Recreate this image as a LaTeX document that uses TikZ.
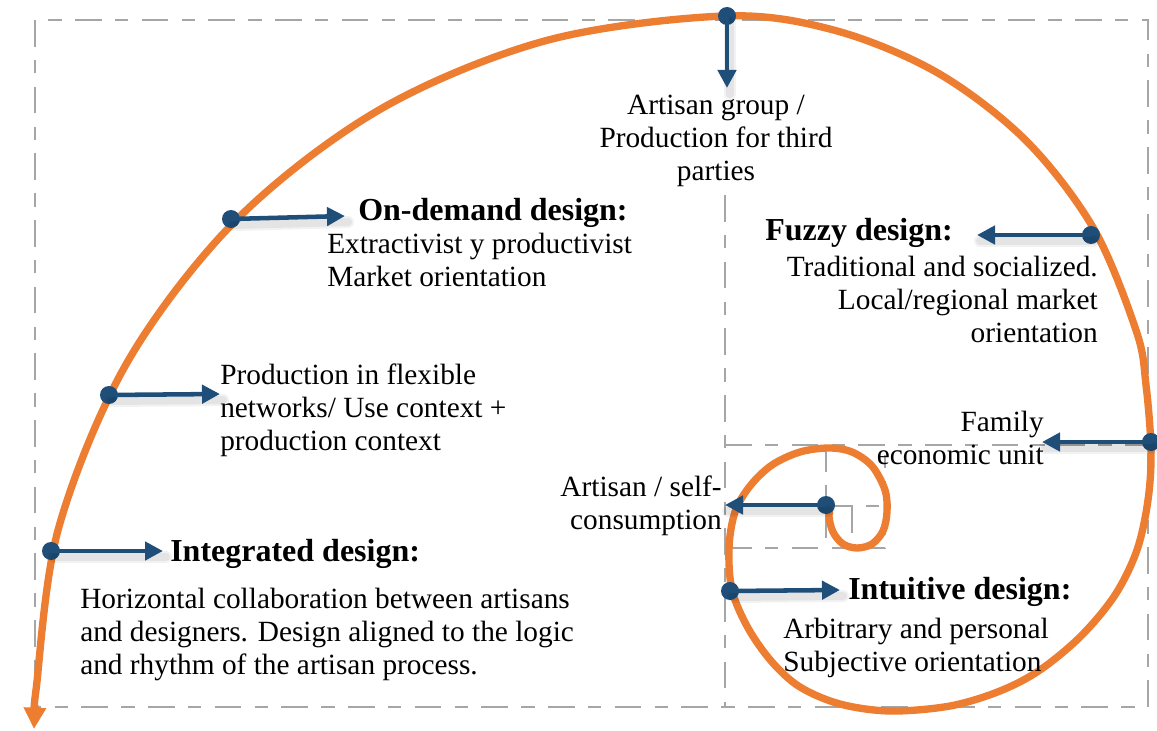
\documentclass[tikz,border=0pt]{standalone}
\usepackage{fontspec}
\setmainfont{Liberation Serif}
\usetikzlibrary{arrows.meta}
\definecolor{sporange}{HTML}{ED7D31}
\definecolor{arblue}{HTML}{1F4E79}
\definecolor{gridgray}{HTML}{A6A6A6}
\begin{document}
\begin{tikzpicture}[x=0.75pt,y=-0.75pt,
  gridline/.style={draw=gridgray, line width=2pt, dash pattern=on 20pt off 10pt on 10pt off 10pt},
  spiral/.style={draw=sporange, line width=5.5pt},
  spiraltip/.style={draw=sporange, line width=5.5pt, -{Triangle[length=16pt,width=16pt]}},
  dot/.style={circle, fill=arblue, inner sep=0pt, minimum size=13.5pt},
  arr/.style={draw=arblue, line width=3.4pt, -{Triangle[length=13.5pt,width=13.5pt]}},
  shadeA/.style={draw=black, opacity=0.05, line width=9pt, line cap=round},
  shadeB/.style={draw=black, opacity=0.06, line width=6pt, line cap=round},
  body/.style={font=\fontsize{22}{24.75}\selectfont, inner sep=0pt},
  head/.style={font=\fontsize{24}{28}\selectfont\bfseries, inner sep=0pt},
]
\useasboundingbox (0,0) rectangle (1157,731);
% golden rectangle grid
\draw[gridline] (35,20) rectangle (1148,707);
\draw[gridline] (725,195) -- (725,707);
\draw[gridline] (725,445) -- (1148,445);
\draw[gridline] (725,548) -- (885,548) -- (885,445);
\draw[gridline] (826,445) -- (826,548);
\draw[gridline] (826,506) -- (885,506);
\draw[gridline] (852,506) -- (852,548);
% spiral
\draw[spiral] plot[smooth, tension=0.55] coordinates {
 (831,503) (829,516) (833,532) (843,544) (857,548) (872,544) (883,531) (887,512)
 (885,490) (872,466) (852,452) (829,448) (800,452) (772,465) (750,486) (735,512)
 (729,548) (732,590) (748,628) (772,662) (800,687) (840,704) (890,711) (950,706)
 (1000,691) (1040,670) (1081,636) (1115,595) (1137,550) (1148,500) (1151,450)
 (1146,385) (1136.5,331.7) (1093.9,229) (1026.2,140.8) (938,73.1) (835.3,30.5)
 (725,16) (546.4,40.5) (380,109.4) (237.1,219.1) (127.4,362) (58.5,528.4)
 (36,690) (35,707)};
\coordinate (sEnd) at (35,705);
\coordinate (sTip) at (34,729);
\draw[spiraltip] (sEnd) -- (sTip);
% dots and arrow targets
\node[dot] (dTop) at (727,16) {};
\node[dot] (dDem) at (231,219) {};
\node[dot] (dPro) at (109,395) {};
\node[dot] (dInt) at (51,551) {};
\node[dot] (dFuz) at (1091,235) {};
\node[dot] (dFam) at (1151,442) {};
\node[dot] (dSelf) at (826,505) {};
\node[dot] (dIntu) at (730,591) {};
\coordinate (tTop) at (727,88);
\coordinate (tDem) at (345,216);
\coordinate (tPro) at (220,394);
\coordinate (tInt) at (163,551);
\coordinate (tFuz) at (977,235);
\coordinate (tFam) at (1042,442);
\coordinate (tSelf) at (725,505);
\coordinate (tIntu) at (840,590);
% soft shadows
\foreach \a/\b in {dTop/tTop,dDem/tDem,dPro/tPro,dInt/tInt,dFuz/tFuz,dFam/tFam,dSelf/tSelf,dIntu/tIntu}{
  \draw[shadeA] ([shift={(3,6)}]\a.center) -- ([shift={(3,6)}]\b);
  \draw[shadeB] ([shift={(3,6)}]\a.center) -- ([shift={(3,6)}]\b);
}
% arrows
\draw[arr] (dTop.center) -- (tTop);
\draw[arr] (dDem.center) -- (tDem);
\draw[arr] (dPro.center) -- (tPro);
\draw[arr] (dInt.center) -- (tInt);
\draw[arr] (dFuz.center) -- (tFuz);
\draw[arr] (dFam.center) -- (tFam);
\draw[arr] (dSelf.center) -- (tSelf);
\draw[arr] (dIntu.center) -- (tIntu);
% texts
\node[body, align=center, anchor=north] (xGroup) at (716,95) {Artisan group /\\Production for third\\parties};
\node[head, anchor=base west] (hDem) at (358,220) {On-demand design:};
\node[body, align=left, anchor=north west] (xDem) at (327,233) {Extractivist y productivist\\Market orientation};
\node[head, anchor=base west] (hFuz) at (765,240) {Fuzzy design:};
\node[body, align=right, anchor=north east] (xFuz) at (1098,256) {Traditional and socialized.\\Local/regional market\\orientation};
\node[body, align=left, anchor=north west] (xPro) at (220,364) {Production in flexible\\networks/ Use context +\\production context};
\node[body, align=right, anchor=north east] (xFam) at (1044,411) {Family\\economic unit};
\node[body, align=right, anchor=north east] (xSelf) at (722,476) {Artisan / self-\\consumption};
\node[head, anchor=base west] (hInt) at (170,561) {Integrated design:};
\node[body, align=left, anchor=north west] (xInt) at (80,588) {Horizontal collaboration between artisans\\and designers. Design aligned to the logic\\and rhythm of the artisan process.};
\node[head, anchor=base west] (hIntu) at (848,599) {Intuitive design:};
\node[body, align=left, anchor=north west] (xIntu) at (783,618) {Arbitrary and personal\\Subjective orientation};
\end{tikzpicture}
\end{document}
